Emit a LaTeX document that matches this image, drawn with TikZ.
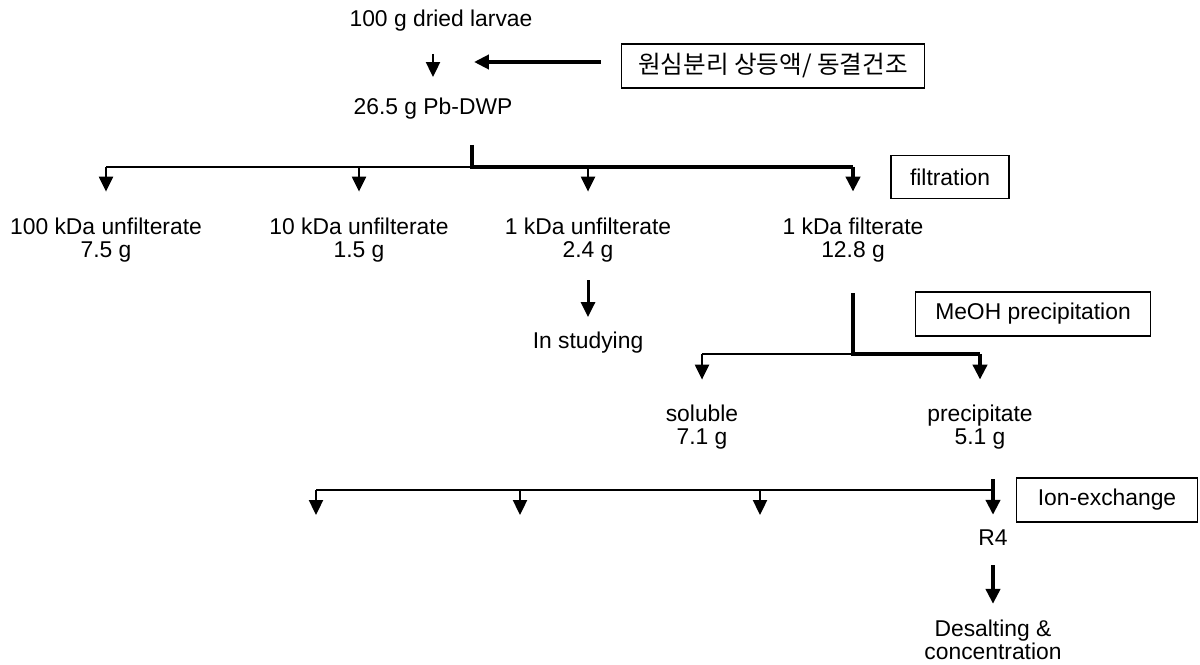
\documentclass[tikz,border=0pt]{standalone}
\usepackage{fontspec}
\setmainfont{Liberation Sans}
\newfontfamily\krfont{Noto Sans CJK KR}
\usetikzlibrary{arrows.meta,positioning}

\begin{document}
\begin{tikzpicture}[x=0.02cm,y=-0.02cm,
    every node/.style={font=\fontsize{13}{13}\selectfont,align=center,inner sep=0pt},
    stepbox/.style={draw,line width=0.9pt,minimum height=0.88cm},
    lnthin/.style={line width=1.1pt},
    lnmid/.style={line width=1.7pt},
    lnthick/.style={line width=2.3pt},
    >={Triangle[length=8.5pt,width=8pt]}]
  \useasboundingbox (0,0) rectangle (1200,665);

  % texts
  \node (larvae) at (441,21) {100 g dried larvae};
  \node (dwp) at (433,109) {26.5 g Pb-DWP};
  \node (u100) at (106,240) {100 kDa unfilterate\\7.5 g};
  \node (u10) at (359,240) {10 kDa unfilterate\\1.5 g};
  \node (u1) at (588,240) {1 kDa unfilterate\\2.4 g};
  \node (f1) at (853,240) {1 kDa filterate\\12.8 g};
  \node (study) at (588,343) {In studying};
  \node (sol) at (702,427) {soluble\\7.1 g};
  \node (prec) at (980,427) {precipitate\\5.1 g};
  \node (r4) at (993,538) {R4};
  \node (desalt) at (993,640) {Desalting \&\\concentration};

  % step boxes
  \node[stepbox,minimum width=6.06cm] (cent) at (773,66)
    {\krfont\fontsize{14}{14}\selectfont 원심분리 상등액/ 동결건조};
  \node[stepbox,minimum width=2.36cm,minimum height=0.86cm] (filt) at (950,177) {filtration};
  \node[stepbox,minimum width=4.7cm] (meoh) at (1033,314) {MeOH precipitation};
  \node[stepbox,minimum width=3.62cm] (ion) at (1107,500) {Ion-exchange};

  \coordinate (inlet) at (474,62);
  \coordinate (fork1) at (472,167);
  \coordinate (fork2) at (853,354);
  \coordinate (fork3) at (993,490);
  \coordinate (ion1) at (316,515);
  \coordinate (ion2) at (520,515);
  \coordinate (ion3) at (760,515);

  % first step
  \draw[->,lnthin,shorten <=0.44cm,shorten >=0.42cm] (larvae.south -| dwp) -- (dwp);
  \draw[->,lnthick,shorten <=0.4cm] (cent.west |- inlet) -- (inlet);

  % filtration
  \draw[lnthick,shorten <=0.5cm] (dwp.south -| fork1) -- (fork1) -- (fork1 -| f1);
  \draw[->,lnthick,shorten >=0.52cm] (fork1 -| f1) -- (f1);
  \draw[lnthin] (fork1) -- (fork1 -| u100);
  \foreach \n in {u100,u10,u1}
    \draw[->,lnthin,shorten >=0.52cm] (fork1 -| \n) -- (\n);
  \draw[->,lnmid,shorten <=0.36cm,shorten >=0.3cm] (u1) -- (study);

  % MeOH precipitation
  \draw[lnthick,shorten <=0.62cm] (f1.south) -- (fork2) -- (fork2 -| prec);
  \draw[->,lnthick,shorten >=0.5cm] (fork2 -| prec) -- (prec);
  \draw[lnthin] (fork2) -- (fork2 -| sol);
  \draw[->,lnthin,shorten >=0.5cm] (fork2 -| sol) -- (sol);

  % ion exchange
  \draw[->,lnthick,shorten <=0.6cm,shorten >=0.3cm] (prec.south -| r4) -- (r4);
  \draw[lnthin] (fork3) -- (fork3 -| ion1);
  \foreach \c in {ion1,ion2,ion3}
    \draw[->,lnthin] (fork3 -| \c) -- (\c);
  \draw[->,lnthick,shorten <=0.38cm,shorten >=0.32cm] (r4) -- (desalt);
\end{tikzpicture}
\end{document}
